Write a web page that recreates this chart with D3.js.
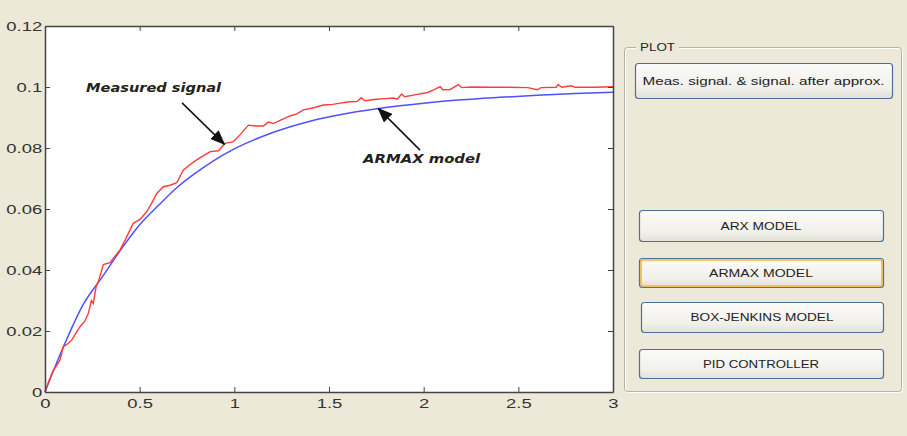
<!DOCTYPE html>
<html>
<head>
<meta charset="utf-8">
<script src="https://cdn.jsdelivr.net/npm/d3@7"></script>
<style>
    body { margin: 0; background: #ece9d8; }
    svg { display: block; }
    .tick text { font-family: "Liberation Sans", Arial, sans-serif; font-size: 13px; fill: #333; }
</style>
</head>
<body>
<div class="canvas"></div>
<script>
// measured signal (red)
let measT = [0, 0.02, 0.044, 0.06, 0.079, 0.097, 0.12, 0.141, 0.165, 0.185, 0.21, 0.229, 0.245, 0.255, 0.27, 0.282,
    0.308, 0.343, 0.37, 0.396, 0.423, 0.466, 0.502, 0.537, 0.56, 0.59, 0.625, 0.66, 0.696, 0.731, 0.765, 0.801,
    0.84, 0.872, 0.916, 0.951, 0.995, 1.03, 1.074, 1.11, 1.153, 1.18, 1.206, 1.25, 1.294, 1.33, 1.365, 1.42,
    1.47, 1.52, 1.558, 1.6, 1.65, 1.67, 1.69, 1.75, 1.8, 1.84, 1.86, 1.884, 1.9, 1.96, 2.02, 2.05, 2.087, 2.1,
    2.14, 2.183, 2.2, 2.25, 2.35, 2.44, 2.55, 2.6, 2.62, 2.7, 2.71, 2.73, 2.78, 2.8, 2.9, 3.0]
let measY = [0, 0.0035, 0.0072, 0.0085, 0.0105, 0.0149, 0.0158, 0.017, 0.0195, 0.0214, 0.0232, 0.0258, 0.03, 0.029, 0.0345, 0.0362,
    0.0418, 0.0424, 0.0445, 0.0466, 0.0498, 0.0553, 0.0566, 0.0591, 0.0615, 0.0651, 0.0673, 0.0678, 0.0686, 0.0728, 0.0745, 0.0761,
    0.0776, 0.0788, 0.0791, 0.0815, 0.0821, 0.0843, 0.0875, 0.0872, 0.0872, 0.0885, 0.088, 0.0893, 0.0905, 0.0912, 0.0925, 0.0932,
    0.0941, 0.0943, 0.0947, 0.0951, 0.0953, 0.0965, 0.0955, 0.096, 0.0962, 0.0964, 0.096, 0.0977, 0.0968, 0.0975, 0.0982, 0.099, 0.1001, 0.0991,
    0.0992, 0.1008, 0.0998, 0.1, 0.0999, 0.0999, 0.0998, 0.0991, 0.0998, 0.0999, 0.1008, 0.0999, 0.1004, 0.0999, 0.0999, 0.1001]

// ARMAX model (blue)
let modelT = [0, 0.05, 0.1, 0.2, 0.3, 0.4, 0.5, 0.6, 0.7, 0.8, 0.9, 1.0, 1.2, 1.4, 1.6, 1.8, 2.0, 2.2, 2.4, 2.6, 2.8, 3.0]
let modelY = [0, 0.0078, 0.0152, 0.0285, 0.0375, 0.0466, 0.0548, 0.0612, 0.0672, 0.072, 0.0762, 0.0797,
    0.085, 0.0888, 0.0914, 0.0933, 0.0947, 0.0958, 0.0966, 0.0973, 0.0979, 0.0983]

let xTicks = [0, 0.5, 1, 1.5, 2, 2.5, 3]
let yTicks = [0, 0.02, 0.04, 0.06, 0.08, 0.1, 0.12]

let buttonLabels = ['Meas. signal. & signal. after approx.', 'ARX MODEL', 'ARMAX MODEL', 'BOX-JENKINS MODEL', 'PID CONTROLLER']

let width = 907,
    height = 436,
    plot = { left: 45, right: 613, top: 26, bottom: 392 },
    stretch = 1.42

let svg = d3.select('.canvas').append('svg')
    .attr('width', width)
    .attr('height', height)

let defs = svg.append('defs')
defs.append('marker')
    .attr('id', 'arrow')
    .attr('markerUnits', 'userSpaceOnUse')
    .attr('markerWidth', 16).attr('markerHeight', 12)
    .attr('refX', 14).attr('refY', 6)
    .attr('orient', 'auto')
    .append('path').attr('d', 'M0,0 L15,6 L0,12 Z').attr('fill', '#111')

let grad = defs.append('linearGradient').attr('id', 'btn').attr('x1', 0).attr('x2', 0).attr('y1', 0).attr('y2', 1)
grad.append('stop').attr('offset', 0).attr('stop-color', '#fbfbf9')
grad.append('stop').attr('offset', 0.7).attr('stop-color', '#f1f0ea')
grad.append('stop').attr('offset', 1).attr('stop-color', '#e2e0d6')

let x = d3.scaleLinear().domain([0, 3]).range([plot.left, plot.right])
let y = d3.scaleLinear().domain([0, 0.12]).range([plot.bottom, plot.top])

// PLOT AREA
svg.append('rect')
    .attr('x', plot.left).attr('y', plot.top)
    .attr('width', plot.right - plot.left).attr('height', plot.bottom - plot.top)
    .attr('fill', '#fff')

let line = d3.line().x(d => x(d[0])).y(d => y(d[1]))

svg.append('path')
    .datum(modelT.map((t, i) => [t, modelY[i]]))
    .attr('d', line.curve(d3.curveMonotoneX))
    .attr('fill', 'none').attr('stroke', '#5050ff').attr('stroke-width', 1.5)

svg.append('path')
    .datum(measT.map((t, i) => [t, measY[i]]))
    .attr('d', line.curve(d3.curveLinear))
    .attr('fill', 'none').attr('stroke', '#ff3b3b').attr('stroke-width', 1.4)

// AXES (ticks inside, box)
let fmtY = d => d3.format('.2~f')(d)
let fmtX = d => d3.format('~g')(d)

function styleAxis(g) {
    g.select('.domain').attr('stroke', '#444').attr('stroke-width', 1.5)
    g.selectAll('.tick line').attr('stroke', '#444')
}

svg.append('g').attr('transform', `translate(0, ${plot.bottom})`)
    .call(d3.axisBottom(x).tickValues(xTicks).tickFormat(fmtX).tickSizeInner(-5).tickSizeOuter(0).tickPadding(5))
    .call(styleAxis)
    .call(g => g.selectAll('text').attr('transform', `scale(${stretch},1)`).attr('dy', '0.85em'))

svg.append('g').attr('transform', `translate(${plot.left}, 0)`)
    .call(d3.axisLeft(y).tickValues(yTicks).tickFormat(fmtY).tickSizeInner(-5).tickSizeOuter(0).tickPadding(2))
    .call(styleAxis)
    .call(g => g.selectAll('text').attr('transform', `scale(${stretch},1)`))

svg.append('g').attr('transform', `translate(0, ${plot.top})`)
    .call(d3.axisTop(x).tickValues(xTicks).tickFormat('').tickSizeInner(-5).tickSizeOuter(0))
    .call(styleAxis)

svg.append('g').attr('transform', `translate(${plot.right}, 0)`)
    .call(d3.axisRight(y).tickValues(yTicks).tickFormat('').tickSizeInner(-5).tickSizeOuter(0))
    .call(styleAxis)

// ANNOTATIONS
let notes = [
    { text: 'Measured signal', tx: 0.217, ty: 0.0985, len: 135, from: [0.724, 0.0948], to: [0.948, 0.0812] },
    { text: 'ARMAX model', tx: 1.68, ty: 0.0752, len: 117, from: [1.981, 0.0793], to: [1.76, 0.0930] }
]
notes.forEach(n => {
    svg.append('line')
        .attr('x1', x(n.from[0])).attr('y1', y(n.from[1]))
        .attr('x2', x(n.to[0])).attr('y2', y(n.to[1]))
        .attr('stroke', '#111').attr('stroke-width', 1.5)
        .attr('marker-end', 'url(#arrow)')
    svg.append('text')
        .text(n.text)
        .attr('x', x(n.tx)).attr('y', y(n.ty))
        .attr('textLength', n.len).attr('lengthAdjust', 'spacingAndGlyphs')
        .style('font-family', '"DejaVu Sans", Verdana, sans-serif')
        .style('font-size', '11.5px').style('font-weight', 'bold').style('font-style', 'italic')
        .attr('fill', '#222')
})

// RIGHT PANEL
svg.append('rect')
    .attr('x', 624.5).attr('y', 47.5).attr('width', 277).attr('height', 344).attr('rx', 3)
    .attr('fill', 'none').attr('stroke', '#fff').attr('stroke-width', 1)
    .attr('transform', 'translate(1,1)')
svg.append('rect')
    .attr('x', 624.5).attr('y', 47.5).attr('width', 277).attr('height', 344).attr('rx', 3)
    .attr('fill', 'none').attr('stroke', '#b4b1a3').attr('stroke-width', 1)
svg.append('rect').attr('x', 636).attr('y', 40).attr('width', 43).attr('height', 14).attr('fill', '#ece9d8')
svg.append('text').text('PLOT')
    .attr('x', 640).attr('y', 51)
    .attr('textLength', 35).attr('lengthAdjust', 'spacingAndGlyphs')
    .style('font-family', '"Liberation Sans", Arial, sans-serif').style('font-size', '11px')
    .attr('fill', '#222')

let buttons = [
    { x0: 635, x1: 892, y0: 63, y1: 98, len: 242 },
    { x0: 639, x1: 883, y0: 210, y1: 241, len: 81 },
    { x0: 639, x1: 883, y0: 258, y1: 287, len: 104, focus: true },
    { x0: 641, x1: 883, y0: 302, y1: 332, len: 143 },
    { x0: 639, x1: 883, y0: 349, y1: 378, len: 116 }
]
buttons.forEach((b, i) => {
    let g = svg.append('g')
    g.append('rect')
        .attr('x', b.x0 + 0.5).attr('y', b.y0 + 0.5)
        .attr('width', b.x1 - b.x0).attr('height', b.y1 - b.y0).attr('rx', 3)
        .attr('fill', 'url(#btn)').attr('stroke', '#4e6f9c').attr('stroke-width', 1.2)
    if (b.focus) {
        g.append('rect')
            .attr('x', b.x0 + 2).attr('y', b.y0 + 2)
            .attr('width', b.x1 - b.x0 - 3).attr('height', b.y1 - b.y0 - 3).attr('rx', 2)
            .attr('fill', 'none').attr('stroke', '#f3b53d').attr('stroke-width', 1.6)
    }
    g.append('text').text(buttonLabels[i])
        .attr('x', (b.x0 + b.x1) / 2).attr('y', (b.y0 + b.y1) / 2 + 4)
        .attr('text-anchor', 'middle')
        .attr('textLength', b.len).attr('lengthAdjust', 'spacingAndGlyphs')
        .style('font-family', '"Liberation Sans", Arial, sans-serif').style('font-size', '11px')
        .attr('fill', '#222')
})
</script>
</body>
</html>
